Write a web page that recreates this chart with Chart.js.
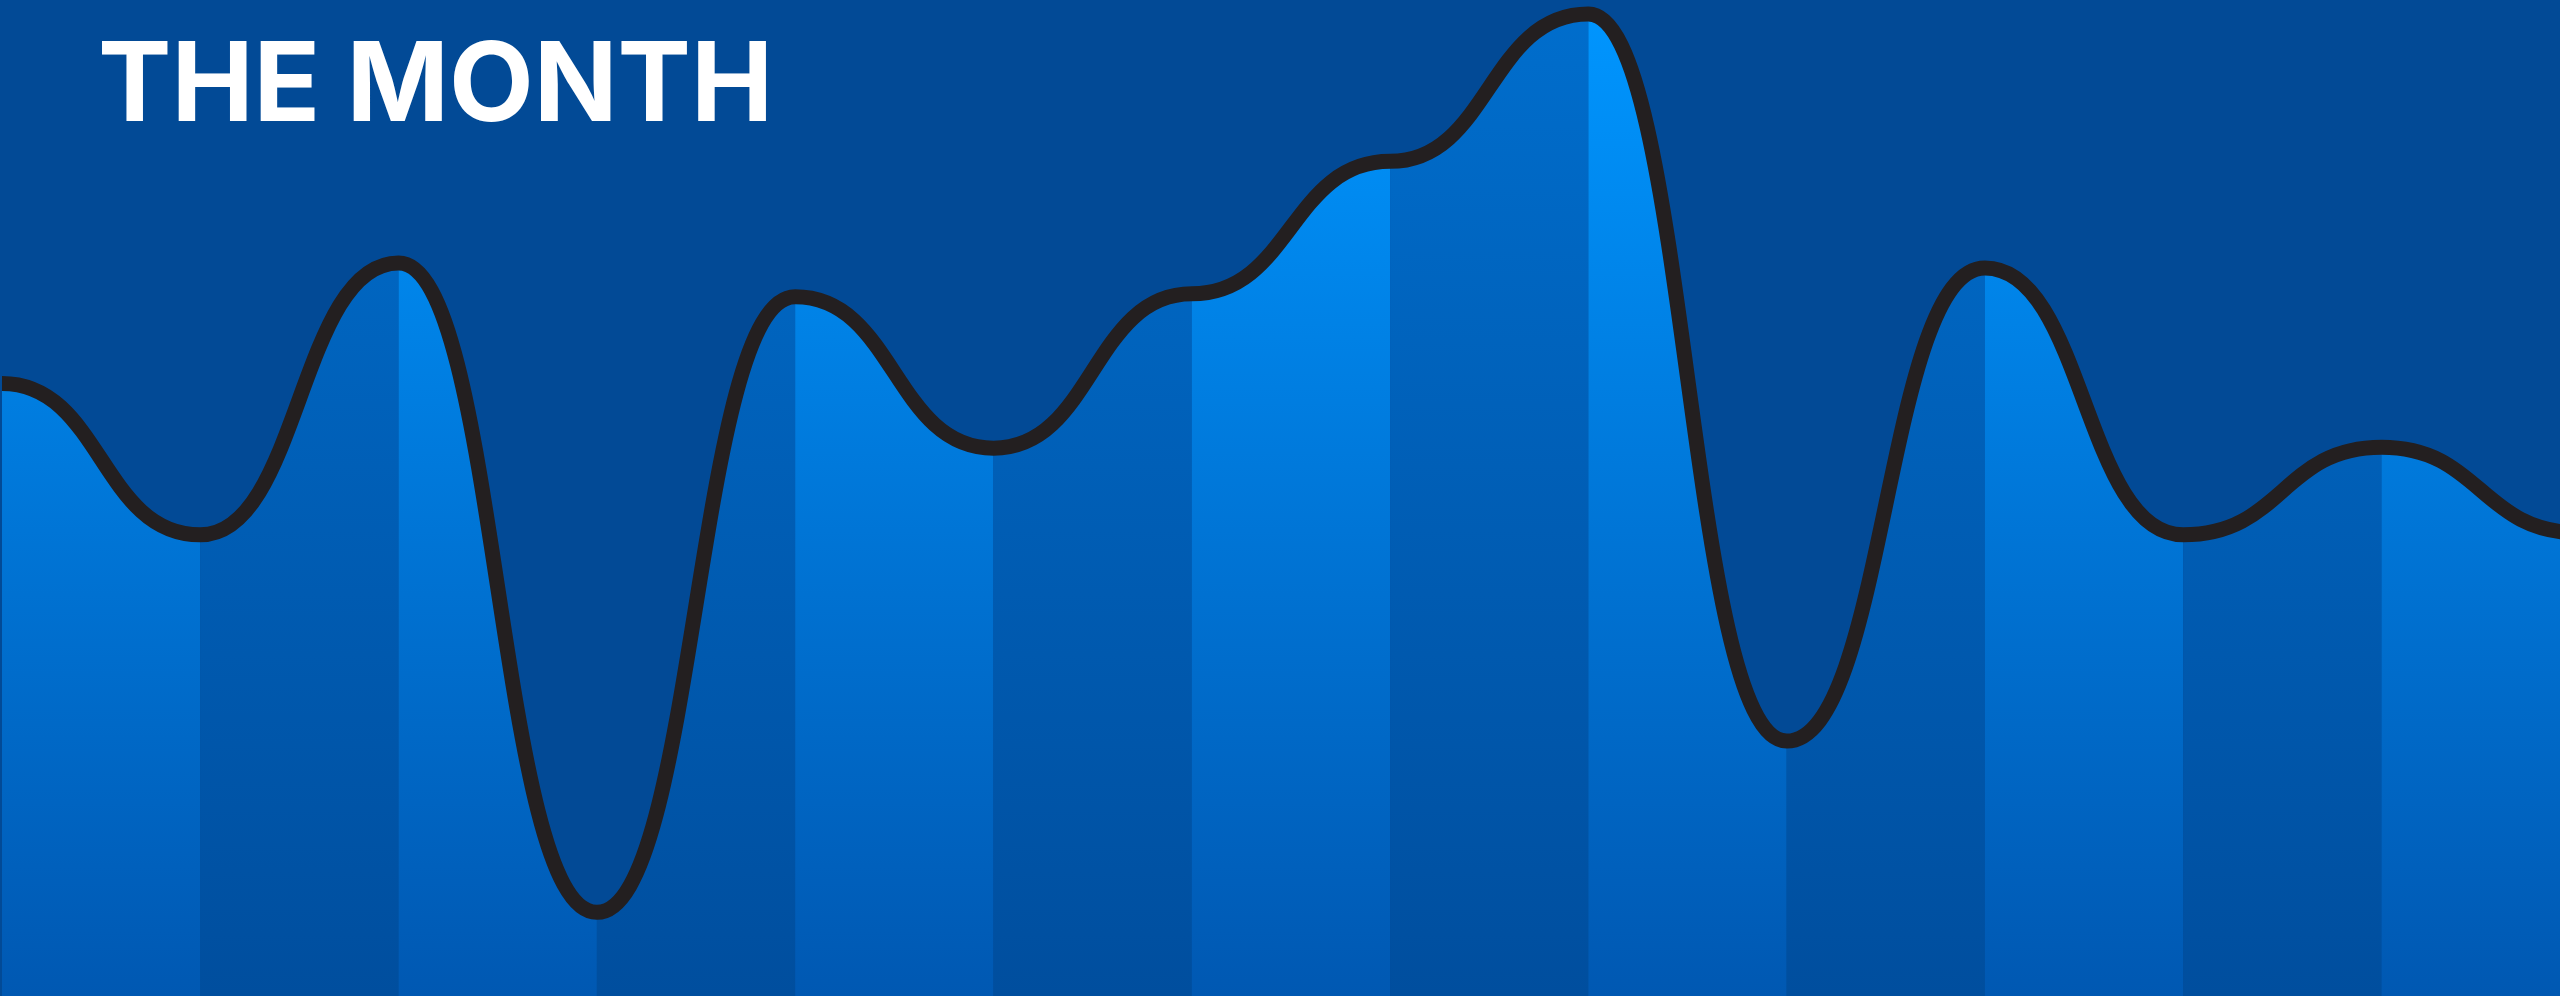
<!DOCTYPE html>
<html>
<head>
<meta charset="utf-8">
<title>The Month</title>
<script src="https://cdn.jsdelivr.net/npm/chart.js@4.4.1/dist/chart.umd.min.js"></script>
<style>
  html, body { margin: 0; padding: 0; background: #024a96; overflow: hidden; }
  #wrap { position: relative; width: 2560px; height: 996px; }
  #chart { display: block; background: #024a96; }
  #title {
    position: absolute; left: 98px; top: 26px;
    color: #fff; font-family: Inter, Roboto, sans-serif; font-weight: 700;
    font-size: 110px; line-height: 110px; white-space: nowrap;
  }
</style>
</head>
<body>
<div id="wrap">
  <canvas id="chart" width="2560" height="996"></canvas>
  <div id="title">THE MONTH</div>
</div>
<script>
// data (0 = bottom edge, 100 = top edge)
var days = ['1', '2', '3', '4', '5', '6', '7', '8', '9', '10', '11', '12', '13', '14'];
var values = [61.5, 46.3, 73.6, 8.4, 70.2, 55.0, 70.5, 83.8, 98.6, 25.6, 73.1, 46.3, 55.1, 46.5];

// look
var lineColor = '#231f20';
var brightTop = 'rgb(0, 150, 255)', brightBottom = 'rgb(0, 88, 178)';
var darkTop = 'rgb(0, 110, 205)', darkBottom = 'rgb(0, 78, 158)';
var bend = 0.5; // how far the flat handles reach toward the neighbour point

// striped fill: one column per point, alternating light / dark
function columnFill(context) {
  var chart = context.chart;
  var area = chart.chartArea;
  if (!area) return brightTop;
  var xs = chart.scales.x;
  var c = document.createElement('canvas');
  c.width = chart.width;
  c.height = chart.height;
  var g = c.getContext('2d');
  var light = g.createLinearGradient(0, area.top, 0, area.bottom);
  light.addColorStop(0, brightTop);
  light.addColorStop(1, brightBottom);
  var dark = g.createLinearGradient(0, area.top, 0, area.bottom);
  dark.addColorStop(0, darkTop);
  dark.addColorStop(1, darkBottom);
  for (var i = 0; i < days.length; i++) {
    var x0 = xs.getPixelForValue(i);
    var x1 = i + 1 < days.length ? xs.getPixelForValue(i + 1) : area.right + 200;
    g.fillStyle = i % 2 ? dark : light;
    g.fillRect(x0, area.top, x1 - x0, area.bottom - area.top);
  }
  return chart.ctx.createPattern(c, 'no-repeat');
}

// every point gets flat (horizontal) bezier handles
var flatCurve = {
  id: 'flatCurve',
  afterDatasetsUpdate: function(chart) {
    var meta = chart.getDatasetMeta(0);
    var pts = meta.data;
    for (var i = 0; i < pts.length; i++) {
      var p = pts[i], prev = pts[i - 1], next = pts[i + 1];
      p.cp1x = prev ? p.x - (p.x - prev.x) * bend : p.x;
      p.cp1y = p.y;
      p.cp2x = next ? p.x + (next.x - p.x) * bend : p.x;
      p.cp2y = p.y;
    }
    meta.dataset._pointsUpdated = true;
  }
};

var chart = new Chart(document.getElementById('chart'), {
  type: 'line',
  data: {
    labels: days,
    datasets: [{
      label: 'The month',
      data: values.map(function(v, i) { return { x: i, y: v }; }),
      borderColor: lineColor,
      borderWidth: 15,
      backgroundColor: columnFill,
      fill: 'start',
      tension: 0.4,
      pointRadius: 0,
      pointHoverRadius: 0
    }]
  },
  options: {
    responsive: false,
    devicePixelRatio: 1,
    animation: false,
    events: [],
    layout: { padding: 0 },
    scales: {
      x: { type: 'linear', min: -0.01, max: 12.9, display: false },
      y: { min: 0, max: 100, display: false }
    },
    plugins: {
      legend: { display: false },
      tooltip: { enabled: false }
    }
  },
  plugins: [flatCurve]
});
</script>
</body>
</html>
